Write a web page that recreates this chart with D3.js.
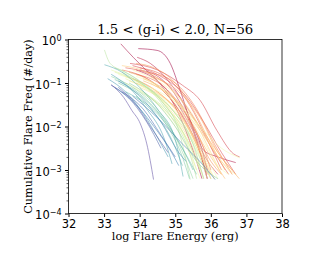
<!DOCTYPE html>
<html>
<head>
<meta charset="utf-8">
<script src="https://cdn.jsdelivr.net/npm/d3@7"></script>
<style>
  body { margin: 0; background: #fff; }
  svg { display: block; }
</style>
</head>
<body>
<svg id="chart" width="312" height="266"></svg>
<script>
// each curve: [log E (erg), log10 cumulative freq (#/day)]
const reds = [
  [[33.96,-0.21],[34.49,-0.25],[34.86,-0.55],[35.14,-1.17],[35.42,-1.86],[35.70,-2.39],[35.9,-3.0]],
  [[33.47,-0.10],[33.82,-0.41],[34.1,-0.64],[34.49,-0.94],[34.9,-1.4],[35.3,-2.1],[35.6,-2.8],[35.75,-3.2]],
  [[33.9,-0.7],[34.5,-0.95],[35.0,-1.4],[35.5,-2.1],[35.8,-2.55],[36.2,-2.7],[36.7,-2.83]],
  [[33.93,-0.41],[34.3,-0.55],[34.8,-0.95],[35.3,-1.6],[35.6,-2.3],[35.9,-3.2]],
  [[34.0,-0.7],[34.6,-0.9],[35.1,-1.4],[35.5,-2.1],[35.8,-2.9],[35.9,-3.2]],
  [[33.7,-0.75],[34.4,-1.0],[35.0,-1.5],[35.5,-2.2],[36.0,-2.9],[36.2,-3.1]]
]
const oranges = [
  [[33.73,-0.55],[34.5,-0.7],[35.2,-1.05],[35.7,-1.4],[36.17,-2.09],[36.64,-2.63],[36.81,-2.7]],
  [[33.8,-0.6],[34.6,-0.85],[35.3,-1.3],[35.8,-1.9],[36.3,-2.6],[36.7,-3.1]],
  [[33.6,-0.65],[34.3,-0.8],[35.0,-1.2],[35.6,-1.9],[36.1,-2.6],[36.5,-3.1]],
  [[34.0,-0.65],[34.8,-0.9],[35.4,-1.5],[35.9,-2.3],[36.3,-3.0]],
  [[33.9,-0.8],[34.7,-1.1],[35.3,-1.7],[35.8,-2.5],[36.0,-3.0]],
  [[33.5,-0.7],[34.2,-0.9],[34.9,-1.4],[35.5,-2.2],[35.9,-3.1]],
  [[34.2,-0.75],[35.0,-1.0],[35.6,-1.6],[36.1,-2.4],[36.6,-3.1]],
  [[33.8,-0.9],[34.5,-1.2],[35.2,-1.8],[35.7,-2.6],[36.0,-3.2]],
  [[34.1,-0.9],[34.9,-1.3],[35.5,-2.0],[36.0,-2.8],[36.3,-3.1]],
  [[33.9,-0.55],[34.4,-0.65],[35.0,-1.0],[35.5,-1.6],[36.0,-2.4],[36.4,-3.0]],
  [[34.3,-0.85],[35.1,-1.2],[35.7,-1.8],[36.2,-2.6],[36.6,-3.0]]
]
const yellows = [
  [[34.1,-0.95],[34.9,-1.3],[35.6,-1.9],[36.2,-2.6],[36.8,-3.2]],
  [[33.9,-1.0],[34.7,-1.35],[35.4,-1.9],[36.0,-2.7],[36.4,-3.2]],
  [[33.6,-0.85],[34.3,-1.1],[35.0,-1.6],[35.6,-2.4],[36.0,-3.1]],
  [[33.5,-0.6],[34.2,-0.75],[34.9,-1.15],[35.5,-1.8],[36.0,-2.6],[36.3,-3.1]],
  [[34.3,-1.0],[35.0,-1.4],[35.7,-2.1],[36.3,-2.8],[36.6,-3.1]],
  [[33.7,-0.95],[34.5,-1.3],[35.1,-1.9],[35.6,-2.7],[35.8,-3.2]],
  [[34.0,-1.1],[34.8,-1.5],[35.4,-2.1],[35.9,-2.9],[36.1,-3.2]],
  [[33.8,-0.7],[34.6,-1.0],[35.3,-1.5],[35.9,-2.3],[36.4,-2.9],[36.7,-3.1]],
  [[34.4,-1.2],[35.1,-1.7],[35.7,-2.5],[36.1,-3.2]],
  [[33.6,-1.0],[34.4,-1.4],[35.0,-2.0],[35.5,-2.8],[35.7,-3.2]],
  [[34.2,-1.3],[34.9,-1.8],[35.5,-2.6],[35.8,-3.2]],
  [[33.9,-0.85],[34.7,-1.2],[35.3,-1.8],[35.8,-2.6],[36.2,-3.2]],
  [[33.7,-0.75],[34.4,-1.0],[35.1,-1.45],[35.7,-2.2],[36.2,-2.9],[36.5,-3.1]]
]
const greens = [
  [[34.3,-1.1],[35.1,-1.5],[35.7,-2.0],[36.3,-2.5],[36.81,-2.72]],
  [[33.4,-0.8],[34.1,-1.05],[34.8,-1.5],[35.4,-2.2],[35.9,-3.0],[36.0,-3.2]],
  [[33.2,-0.7],[33.9,-0.95],[34.6,-1.4],[35.2,-2.1],[35.7,-3.0]],
  [[33.6,-0.9],[34.3,-1.2],[35.0,-1.7],[35.6,-2.5],[35.9,-3.2]],
  [[33.3,-0.75],[34.0,-1.0],[34.7,-1.5],[35.3,-2.3],[35.6,-3.0]],
  [[33.8,-1.1],[34.6,-1.5],[35.3,-2.1],[35.8,-2.9],[36.0,-3.2]],
  [[34.0,-1.2],[34.8,-1.7],[35.4,-2.4],[35.7,-3.0]]
]
const teals = [
  [[33.01,-0.24],[33.17,-0.55],[33.6,-0.75],[34.2,-1.1],[34.9,-1.8],[35.4,-2.6],[35.6,-3.2]],
  [[33.3,-0.65],[34.0,-0.95],[34.6,-1.4],[35.1,-2.1],[35.42,-3.22]],
  [[33.5,-0.75],[34.2,-1.1],[34.9,-1.6],[35.5,-2.4],[35.8,-3.2]],
  [[33.2,-0.85],[33.9,-1.15],[34.5,-1.6],[35.1,-2.4],[35.5,-3.2]],
  [[33.7,-1.0],[34.4,-1.4],[35.0,-2.0],[35.6,-2.8],[36.2,-3.2]],
  [[33.4,-1.0],[34.1,-1.35],[34.7,-1.9],[35.2,-2.7],[35.4,-3.2]],
  [[33.9,-1.3],[34.6,-1.8],[35.2,-2.5],[35.6,-3.1]],
  [[33.3,-0.92],[34.0,-1.25],[34.6,-1.75],[35.2,-2.5],[35.5,-3.0]],
  [[33.6,-1.2],[34.3,-1.6],[34.9,-2.3],[35.2,-2.9]]
]
const blues = [
  [[33.01,-0.58],[33.5,-0.75],[34.0,-1.1],[34.5,-1.6],[35.0,-2.3],[35.22,-3.15]],
  [[33.2,-0.8],[33.7,-1.1],[34.2,-1.6],[34.7,-2.3],[34.91,-2.86]],
  [[33.1,-0.9],[33.6,-1.2],[34.1,-1.7],[34.6,-2.4],[34.8,-2.7]],
  [[33.4,-0.95],[34.0,-1.3],[34.6,-1.9],[35.1,-2.6],[35.3,-2.8]],
  [[33.3,-1.1],[33.9,-1.5],[34.4,-2.0],[34.9,-2.6],[35.1,-2.9]],
  [[33.8,-1.3],[34.5,-1.8],[35.2,-2.4],[35.8,-2.9],[36.12,-3.22]],
  [[33.5,-1.2],[34.1,-1.6],[34.6,-2.2],[35.0,-2.7]],
  [[33.2,-1.05],[33.7,-1.35],[34.2,-1.9],[34.6,-2.5]]
]
const purples = [
  [[33.4,-1.1],[33.9,-1.5],[34.3,-2.0],[34.8,-2.6]],
  [[33.2,-1.04],[33.55,-1.33],[33.78,-1.63],[34.02,-1.94],[34.2,-2.4],[34.39,-3.22]]
]

const xTicks = [32, 33, 34, 35, 36, 37, 38]
const yExponents = [-4, -3, -2, -1, 0]
const title = "1.5 < (g-i) < 2.0, N=56"

const
    margin = { top: 39.5, right: 30, bottom: 52.5, left: 68.5 },
    width = 312,
    height = 266

const curves = [].concat(reds, oranges, yellows, greens, teals, blues, purples)

const x = d3.scaleLinear()
    .domain([32, 38])
    .range([margin.left, width - margin.right])

const y = d3.scaleLog()
    .domain([1e-4, 1])
    .range([height - margin.bottom, margin.top])

const svg = d3.select("#chart")

svg.append("clipPath").attr("id", "plot-clip")
    .append("rect")
    .attr("x", margin.left).attr("y", margin.top)
    .attr("width", x(38) - x(32)).attr("height", y(1e-4) - y(1))

const line = d3.line()
    .x(d => x(d[0]))
    .y(d => y(Math.pow(10, d[1])))
    .curve(d3.curveMonotoneX)

svg.append("g")
    .attr("clip-path", "url(#plot-clip)")
    .selectAll("path")
    .data(curves)
    .enter().append("path")
    .attr("d", line)
    .attr("fill", "none")
    .attr("stroke", (d, i) => d3.interpolateSpectral(i / (curves.length - 1)))
    .attr("stroke-opacity", 0.55)
    .attr("stroke-width", 1)

// minor ticks on the log axis
const minor = []
yExponents.slice(0, -1).forEach(e => {
    for (let k = 2; k <= 9; k++) minor.push(k * Math.pow(10, e))
})

svg.append("g")
    .attr("transform", `translate(${margin.left},0)`)
    .call(d3.axisLeft(y).tickValues(minor).tickSize(2).tickFormat(""))
    .call(g => g.select(".domain").remove())
    .call(g => g.selectAll("line").attr("stroke-width", 0.6))

const yAxis = svg.append("g")
    .attr("transform", `translate(${margin.left},0)`)
    .call(d3.axisLeft(y)
        .tickValues(yExponents.map(e => Math.pow(10, e)))
        .tickSize(3.5).tickPadding(3.5).tickFormat(""))
    .call(g => g.select(".domain").remove())

yAxis.selectAll(".tick").each(function(d) {
    const e = Math.round(Math.log10(d))
    const t = d3.select(this).select("text")
        .attr("font-family", "DejaVu Sans")
        .attr("font-size", 11.5)
        .attr("fill", "#000")
        .attr("dy", "0.45em")
    t.append("tspan").text("10")
    t.append("tspan")
        .attr("font-size", 8)
        .attr("dy", "-0.5em")
        .text(e < 0 ? "\u2212" + Math.abs(e) : "0")
})

svg.append("g")
    .attr("transform", `translate(0,${height - margin.bottom})`)
    .call(d3.axisBottom(x).tickValues(xTicks).tickSize(3.5).tickPadding(3)
        .tickSizeOuter(0).tickFormat(d3.format("d")))
    .call(g => g.select(".domain").remove())
    .call(g => g.selectAll("text")
        .attr("font-family", "DejaVu Sans")
        .attr("font-size", 11.5)
        .attr("fill", "#000"))

svg.selectAll(".tick line").attr("stroke", "#000")

svg.append("rect")
    .attr("x", margin.left).attr("y", margin.top)
    .attr("width", x(38) - x(32)).attr("height", y(1e-4) - y(1))
    .attr("fill", "none")
    .attr("stroke", "#000")
    .attr("stroke-width", 0.8)

svg.append("text")
    .attr("x", (x(32) + x(38)) / 2)
    .attr("y", 34)
    .attr("text-anchor", "middle")
    .attr("font-family", "DejaVu Serif")
    .attr("font-size", 13.2)
    .text(title)

svg.append("text")
    .attr("x", (x(32) + x(38)) / 2)
    .attr("y", 240)
    .attr("text-anchor", "middle")
    .attr("font-family", "DejaVu Serif")
    .attr("font-size", 11.2)
    .text("log Flare Energy (erg)")

svg.append("text")
    .attr("transform", `translate(32,${(y(1) + y(1e-4)) / 2}) rotate(-90)`)
    .attr("text-anchor", "middle")
    .attr("font-family", "DejaVu Serif")
    .attr("font-size", 11.2)
    .text("Cumulative Flare Freq (#/day)")
</script>
</body>
</html>
